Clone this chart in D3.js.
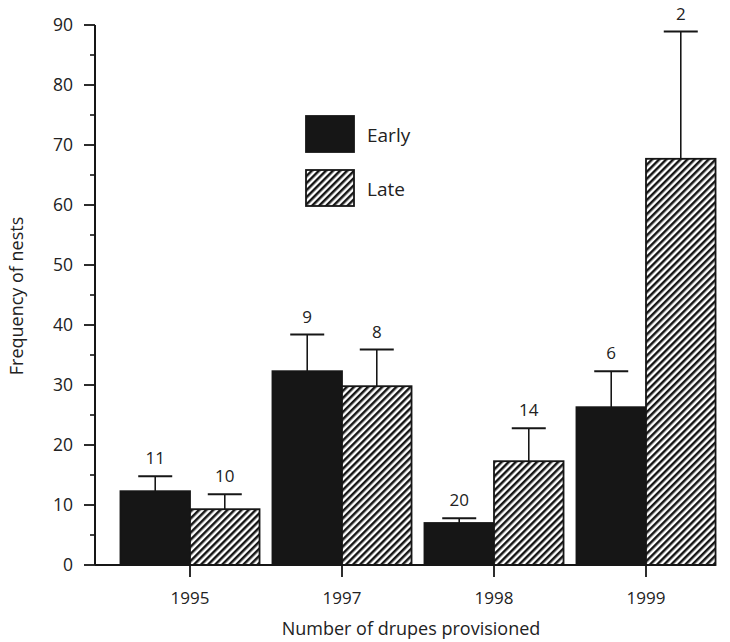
<!DOCTYPE html>
<html>
<head>
<meta charset="utf-8">
<script src="https://cdn.jsdelivr.net/npm/d3@7"></script>
<style>
  html, body { margin: 0; padding: 0; background: #fff; }
  svg { display: block; font-family: "Open Sans", "Noto Sans", sans-serif; }
</style>
</head>
<body>
<svg id="chart" width="730" height="642"></svg>
<script>
// Nest frequency by year, early vs late broods
const years = ["1995", "1997", "1998", "1999"];
const seriesNames = ["Early", "Late"];
const earlyValues = [12.3, 32.3, 7.0, 26.3];
const lateValues = [9.3, 29.8, 17.3, 67.7];
const earlyErrors = [14.8, 38.4, 7.8, 32.3];
const lateErrors = [11.8, 35.9, 22.8, 88.9];
const earlyN = ["11", "9", "20", "6"];
const lateN = ["10", "8", "14", "2"];
const yTicks = [0, 10, 20, 30, 40, 50, 60, 70, 80, 90];

const svg = d3.select("#chart");
const ink = "#161616";

// Diagonal hatch used for the late series
const hp = 5;
const defs = svg.append("defs");
const pat = defs.append("pattern")
  .attr("id", "hatch")
  .attr("patternUnits", "userSpaceOnUse")
  .attr("width", hp).attr("height", hp)
  .attr("patternTransform", "rotate(45)");
pat.append("rect").attr("width", hp).attr("height", hp).attr("fill", "#fff");
pat.append("rect")
  .attr("x", 0).attr("y", 0).attr("width", 2.5).attr("height", hp)
  .attr("fill", ink);

const axisX = 95, baseY = 565;
const x0 = d3.scaleBand().domain(years).range([114, 722]).paddingInner(0.085).paddingOuter(0.0425);
const x1 = d3.scaleBand().domain(seriesNames).range([0, x0.bandwidth()]);
const y = d3.scaleLinear().domain([0, 90]).range([baseY, 25]);

const rows = years.map((yr, i) => ({
  year: yr,
  items: [
    { s: "Early", v: earlyValues[i], e: earlyErrors[i], n: earlyN[i] },
    { s: "Late", v: lateValues[i], e: lateErrors[i], n: lateN[i] }
  ]
}));

const groups = svg.append("g").selectAll("g").data(rows).join("g")
  .attr("transform", d => `translate(${x0(d.year)},0)`);

// Error bars with sample sizes above the caps
groups.selectAll("g.err").data(d => d.items).join("g").attr("class", "err")
  .each(function(d) {
    const g = d3.select(this);
    const cx = x1(d.s) + x1.bandwidth() / 2;
    g.append("line").attr("x1", cx).attr("x2", cx)
      .attr("y1", y(d.v)).attr("y2", y(d.e))
      .attr("stroke", ink).attr("stroke-width", 1.6);
    g.append("line").attr("x1", cx - 17).attr("x2", cx + 17)
      .attr("y1", y(d.e)).attr("y2", y(d.e))
      .attr("stroke", ink).attr("stroke-width", 2);
    g.append("text").attr("x", cx).attr("y", y(d.e) - 12)
      .attr("text-anchor", "middle").attr("font-size", 17).attr("fill", "#222")
      .text(d.n);
  });

groups.selectAll("rect").data(d => d.items).join("rect")
  .attr("x", d => x1(d.s))
  .attr("y", d => y(d.v))
  .attr("width", x1.bandwidth())
  .attr("height", d => baseY - y(d.v))
  .attr("fill", d => d.s === "Early" ? ink : "url(#hatch)")
  .attr("stroke", ink).attr("stroke-width", 1.8);

// Y axis with minor ticks every 5
const yAxis = svg.append("g").attr("transform", `translate(${axisX},0)`);
yAxis.append("line").attr("x1", 0).attr("x2", 0).attr("y1", y(90)).attr("y2", baseY)
  .attr("stroke", ink).attr("stroke-width", 2);
yAxis.selectAll("line.major").data(yTicks).join("line").attr("class", "major")
  .attr("x1", -11).attr("x2", 0).attr("y1", d => y(d)).attr("y2", d => y(d))
  .attr("stroke", ink).attr("stroke-width", 1.8);
yAxis.selectAll("line.minor").data(yTicks.slice(0, -1).map(d => d + 5)).join("line").attr("class", "minor")
  .attr("x1", -5).attr("x2", 0).attr("y1", d => y(d)).attr("y2", d => y(d))
  .attr("stroke", ink).attr("stroke-width", 1.6);
yAxis.selectAll("text").data(yTicks).join("text")
  .attr("x", -22).attr("y", d => y(d)).attr("dy", "0.36em")
  .attr("text-anchor", "end").attr("font-size", 17.5).attr("fill", "#222")
  .text(d => d);

// X axis baseline and year ticks
const lastBand = x0(years[years.length - 1]) + x0.bandwidth();
const xAxis = svg.append("g");
xAxis.append("line").attr("x1", axisX).attr("x2", lastBand)
  .attr("y1", baseY).attr("y2", baseY).attr("stroke", ink).attr("stroke-width", 2);
xAxis.selectAll("line.tick").data(years).join("line").attr("class", "tick")
  .attr("x1", d => x0(d) + x0.bandwidth() / 2).attr("x2", d => x0(d) + x0.bandwidth() / 2)
  .attr("y1", baseY).attr("y2", baseY + 12).attr("stroke", ink).attr("stroke-width", 1.8);
xAxis.selectAll("text").data(years).join("text")
  .attr("x", d => x0(d) + x0.bandwidth() / 2).attr("y", 604)
  .attr("text-anchor", "middle").attr("font-size", 17).attr("fill", "#222")
  .text(d => d);

// Axis titles
svg.append("text").attr("x", 411).attr("y", 635).attr("text-anchor", "middle")
  .attr("font-size", 18).attr("fill", "#222").text("Number of drupes provisioned");
svg.append("text").attr("transform", "translate(23,296) rotate(-90)")
  .attr("text-anchor", "middle").attr("font-size", 18).attr("fill", "#222")
  .text("Frequency of nests");

// Legend
const legend = svg.append("g");
seriesNames.forEach((s, i) => {
  const ly = 116 + i * 54;
  legend.append("rect").attr("x", 306).attr("y", ly).attr("width", 48).attr("height", 36)
    .attr("fill", s === "Early" ? ink : "url(#hatch)")
    .attr("stroke", ink).attr("stroke-width", 1.8);
  legend.append("text").attr("x", 367).attr("y", ly + 19).attr("dy", "0.36em")
    .attr("font-size", 19).attr("fill", "#222").text(s);
});
</script>
</body>
</html>
